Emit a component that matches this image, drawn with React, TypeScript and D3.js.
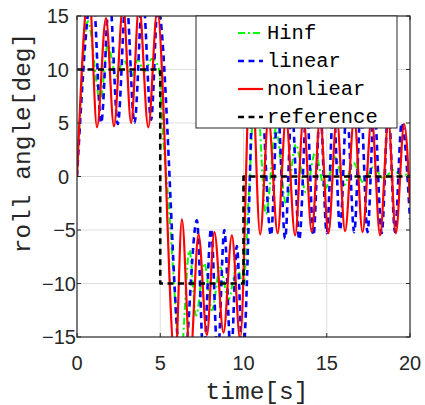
import React from "react";
import * as d3 from "d3";

const X_TICKS = [0, 5, 10, 15, 20];
const Y_TICKS = [-15, -10, -5, 0, 5, 10, 15];

const SERIES_NAMES = ["Hinf", "linear", "nonliear", "reference"];

const hinfPts: [number, number][] = [
  [0, 0], [0.65, 14.5], [1.4, 7.1], [1.85, 12.3], [2.35, 9.4], [2.8, 10.9], [3.3, 9.4],
  [3.65, 10.9], [4.05, 9.8], [4.5, 11.0], [4.9, 10.2], [5.2, 3.1], [5.5, -2.5], [5.8, -9.4],
  [6.0, -14], [6.25, -16.5], [6.75, -6.9], [7.15, -13], [7.65, -8.1], [8.1, -12.5],
  [8.6, -8.5], [9.1, -11.5], [9.6, -8.4], [10.0, -10.2], [10.3, -2.2], [10.75, 9],
  [11.35, -3.5], [11.95, 4.5], [12.55, -2.5], [13.15, 3], [13.75, -1.5], [14.3, 2.2],
  [14.9, -1.2], [15.5, 1.8], [16.05, -0.8], [16.6, 1.3], [17.2, -0.6], [17.8, 0.9],
  [18.4, -0.2], [19.0, 0.6], [19.5, 0.1], [20, 0.3],
];

const linearPts: [number, number][] = [
  [0, 0], [0.95, 17.5], [1.45, 5.0], [1.95, 17], [2.45, 4.9], [2.95, 17], [3.45, 5.0],
  [3.95, 17], [4.45, 5.3], [4.85, 16], [6.35, -19], [7.2, -4.1], [7.6, -17], [8.05, -4.9],
  [8.45, -17], [8.85, -5.0], [9.25, -17], [9.6, -6.5], [9.95, -17], [10.8, 16],
  [11.65, -5.5], [12.05, 6.5], [12.5, -5.8], [12.9, 6.5], [13.35, -5.9], [13.8, 6.5],
  [14.2, -5.5], [14.6, 6.5], [15.0, -5.3], [15.4, 6.5], [15.8, -5.0], [16.2, 6.5],
  [16.65, -5.2], [17.05, 6.5], [17.45, -5.2], [17.85, 6.5], [18.3, -5.3], [18.7, 6.5],
  [19.1, -5.2], [19.5, 5.0], [20, -4],
];

const nonlinearPts: [number, number][] = [
  [0, 0], [0.72, 17.5], [1.2, 4.6], [1.74, 14.8], [2.22, 4.7], [2.77, 16], [3.25, 5.0],
  [3.73, 16], [4.28, 4.6], [4.82, 15.5], [5.9, -17.5], [6.3, -4.0], [6.8, -17], [7.3, -5.4],
  [7.8, -14.8], [8.25, -5.2], [8.8, -14.6], [9.3, -5.5], [9.8, -15.2], [10.45, 12],
  [11.0, -5.4], [11.5, 5.5], [12.05, -5.3], [12.55, 5.5], [13.1, -5.5], [13.6, 5.5],
  [14.1, -5.2], [14.6, 5.5], [15.1, -5.3], [15.6, 5.5], [16.1, -5.1], [16.65, 5.5],
  [17.15, -5.2], [17.7, 5.5], [18.2, -5.5], [18.7, 5.2], [19.15, -5.3], [19.65, 4.9],
  [20, -2.5],
];

const referencePts: [number, number][] = [
  [0, 10], [5, 10], [5, -10], [10, -10], [10, 0], [20, 0],
];

const W = 425;
const H = 405;
const L = 77, R = 410, T = 16, B = 337;

const x = d3.scaleLinear().domain([0, 20]).range([L, R]);
const y = d3.scaleLinear().domain([-15, 15]).range([B, T]);

const smooth = d3.line<[number, number]>().x(d => x(d[0])).y(d => y(d[1])).curve(d3.curveMonotoneX);
const straight = d3.line<[number, number]>().x(d => x(d[0])).y(d => y(d[1]));

const AX = "#262626";
const GRID = "#dfdfdf";
const mono = "'Liberation Mono', 'DejaVu Sans Mono', monospace";
const sans = "'Liberation Sans', Arial, sans-serif";

const styles = [
  { color: "#00ff00", dash: "7,3,2,3", width: 2 },
  { color: "#0000ff", dash: "6,4.5", width: 2.6 },
  { color: "#ff0000", dash: "", width: 2.2 },
  { color: "#000000", dash: "6,4.5", width: 2.6 },
];

export default function App() {
  const paths = [
    smooth(hinfPts),
    smooth(linearPts),
    smooth(nonlinearPts),
    straight(referencePts),
  ];
  const legX0 = 196, legX1 = 397, legY0 = 16, legY1 = 128;
  const rowY = [33, 61, 89, 117];
  return (
    <svg width={W} height={H} style={{ position: "absolute", left: 0, top: 0, background: "#fff" }}>
      <defs>
        <clipPath id="plotclip">
          <rect x={L} y={T} width={R - L} height={B - T} />
        </clipPath>
      </defs>
      <rect x={0} y={0} width={W} height={H} fill="#fff" />
      {/* grid */}
      {X_TICKS.filter(t => t > 0 && t < 20).map(t => (
        <line key={"gx" + t} x1={x(t)} x2={x(t)} y1={T} y2={B} stroke={GRID} strokeWidth={1} />
      ))}
      {Y_TICKS.filter(t => t > -15 && t < 15).map(t => (
        <line key={"gy" + t} x1={L} x2={R} y1={y(t)} y2={y(t)} stroke={GRID} strokeWidth={1} />
      ))}
      {/* series */}
      <g clipPath="url(#plotclip)">
        {paths.map((p, i) => (
          <path key={i} d={p || ""} fill="none" stroke={styles[i].color} strokeWidth={styles[i].width}
            strokeDasharray={styles[i].dash || undefined} strokeLinejoin="round" />
        ))}
      </g>
      {/* axes box */}
      <rect x={L} y={T} width={R - L} height={B - T} fill="none" stroke={AX} strokeWidth={1.2} />
      {/* ticks */}
      {X_TICKS.map(t => (
        <g key={"tx" + t}>
          <line x1={x(t)} x2={x(t)} y1={B} y2={B - 4} stroke={AX} />
          <line x1={x(t)} x2={x(t)} y1={T} y2={T + 4} stroke={AX} />
          <text x={x(t)} y={370} textAnchor="middle" fontFamily={sans} fontSize={20} fill={AX}>{t}</text>
        </g>
      ))}
      {Y_TICKS.map(t => (
        <g key={"ty" + t}>
          <line x1={L} x2={L + 4} y1={y(t)} y2={y(t)} stroke={AX} />
          <line x1={R} x2={R - 4} y1={y(t)} y2={y(t)} stroke={AX} />
          <text x={t < 0 ? 76 : 69} y={y(t) + 7} textAnchor="end" fontFamily={sans} fontSize={20} fill={AX}>
            {t < 0 ? "\u2212" + Math.abs(t) : String(t)}
          </text>
        </g>
      ))}
      {/* axis labels */}
      <text x={257} y={399} textAnchor="middle" fontFamily={mono} fontSize={24.5} fill={AX}>time[s]</text>
      <text transform="translate(30,143) rotate(-90)" textAnchor="middle" fontFamily={mono} fontSize={24.5} fill={AX}>
        roll angle[deg]
      </text>
      {/* legend */}
      <rect x={legX0} y={legY0} width={legX1 - legX0} height={legY1 - legY0} fill="#fff" stroke={AX} strokeWidth={1} />
      {SERIES_NAMES.map((name, i) => (
        <g key={name}>
          <line x1={238} x2={263} y1={rowY[i]} y2={rowY[i]} stroke={styles[i].color}
            strokeWidth={styles[i].width} strokeDasharray={styles[i].dash || undefined} />
          <text x={267} y={rowY[i] + 6} fontFamily={mono} fontSize={20.5} fill="#000">{name}</text>
        </g>
      ))}
    </svg>
  );
}
